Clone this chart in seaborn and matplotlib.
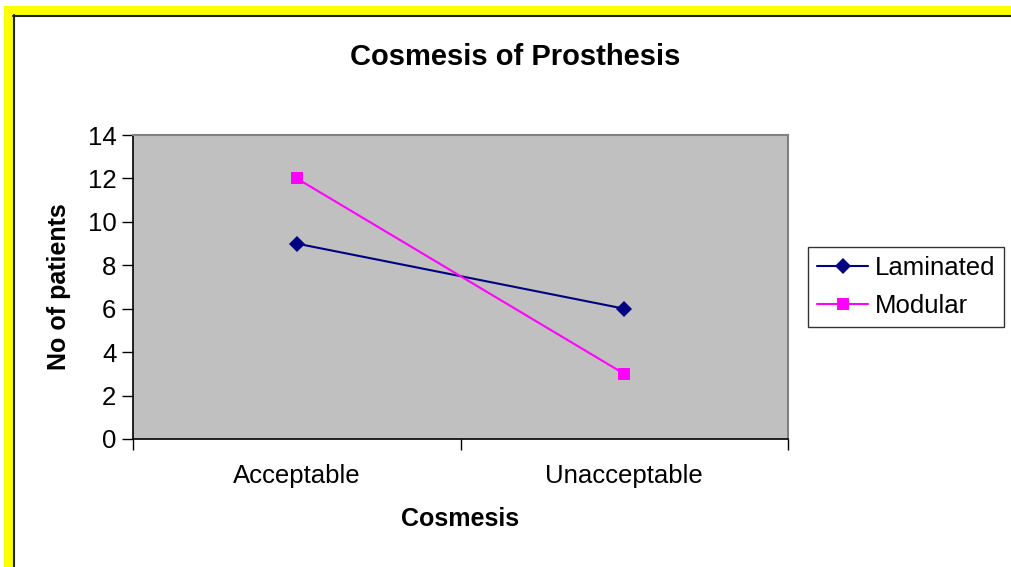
import pandas as pd
import matplotlib.pyplot as plt
import seaborn as sns
from matplotlib.patches import Rectangle
from matplotlib.lines import Line2D

# 데이터
categories = ["Acceptable", "Unacceptable"]
laminated = [9, 6]
modular = [12, 3]

df = pd.DataFrame({
    "Cosmesis": categories * 2,
    "Patients": laminated + modular,
    "Type": ["Laminated"] * 2 + ["Modular"] * 2,
})

sns.set_style("white")
plt.rcParams["font.family"] = ["Liberation Sans", "DejaVu Sans"]
plt.rcParams["text.color"] = "black"
plt.rcParams["axes.labelcolor"] = "black"
plt.rcParams["xtick.color"] = "black"
plt.rcParams["ytick.color"] = "black"

W, H = 1011, 567
fig = plt.figure(figsize=(W / 100, H / 100), dpi=100)
ax = fig.add_axes([133 / W, 1 - 439 / H, (788 - 133) / W, (439 - 135) / H])
ax.set_facecolor("#C0C0C0")

sns.lineplot(data=df, x="Cosmesis", y="Patients", hue="Type", style="Type",
             palette={"Laminated": "#000080", "Modular": "#FF00FF"},
             markers={"Laminated": "D", "Modular": "s"}, dashes=False,
             markersize=8, markeredgewidth=0, linewidth=1.5, ax=ax, legend=False)

ax.set_xlim(-0.5, 1.5)
ax.set_ylim(0, 14)
ax.set_yticks(range(0, 15, 2))
ax.set_xticks([0, 1])
ax.set_xticklabels(categories)
ax.set_xticks([-0.5, 0.5, 1.5], minor=True)
ax.tick_params(axis="x", which="major", length=0, pad=18, labelsize=18.5)
ax.tick_params(axis="x", which="minor", length=8, width=1, color="black", direction="out")
ax.tick_params(axis="y", length=8, width=1, color="black", direction="out", labelsize=18.5, pad=4)
ax.tick_params(bottom=True, left=True, which="both")

for s in ["left", "bottom"]:
    ax.spines[s].set_color("black")
    ax.spines[s].set_linewidth(1.2)
for s in ["top", "right"]:
    ax.spines[s].set_color("#808080")
    ax.spines[s].set_linewidth(1.5)

ax.set_xlabel("Cosmesis", fontsize=18, fontweight="bold", labelpad=14)
ax.set_ylabel("No of patients", fontsize=18, fontweight="bold", labelpad=12)
fig.text(515 / W, 1 - 57 / H, "Cosmesis of Prosthesis", fontsize=21, fontweight="bold",
         ha="center", va="center")

handles = [
    Line2D([], [], color="#000080", marker="D", markersize=8, markeredgewidth=0, linewidth=1.5),
    Line2D([], [], color="#FF00FF", marker="s", markersize=8, markeredgewidth=0, linewidth=1.5),
]
leg = fig.legend(handles, ["Laminated", "Modular"], loc="center left",
                 bbox_to_anchor=(808 / W, 1 - 287 / H), fontsize=18.5, frameon=True,
                 fancybox=False, edgecolor="black", handlelength=2.0, handletextpad=0.25,
                 borderpad=0.35, labelspacing=0.55, borderaxespad=0)
leg.get_frame().set_linewidth(1)

# 노란 테두리
fig.patches.append(Rectangle((4 / W, 1 - 15 / H), 1, 9 / H, transform=fig.transFigure,
                             facecolor="#FFFF00", edgecolor="none"))
fig.patches.append(Rectangle((4 / W, 0), 9 / W, 1 - 6 / H, transform=fig.transFigure,
                             facecolor="#FFFF00", edgecolor="none"))
fig.lines.append(Line2D([13 / W, 1], [1 - 16 / H] * 2, transform=fig.transFigure,
                        color="#202020", linewidth=1.5))
fig.lines.append(Line2D([14 / W] * 2, [0, 1 - 15 / H], transform=fig.transFigure,
                        color="#202020", linewidth=1.5))

fig.savefig("out.png", dpi=100)
